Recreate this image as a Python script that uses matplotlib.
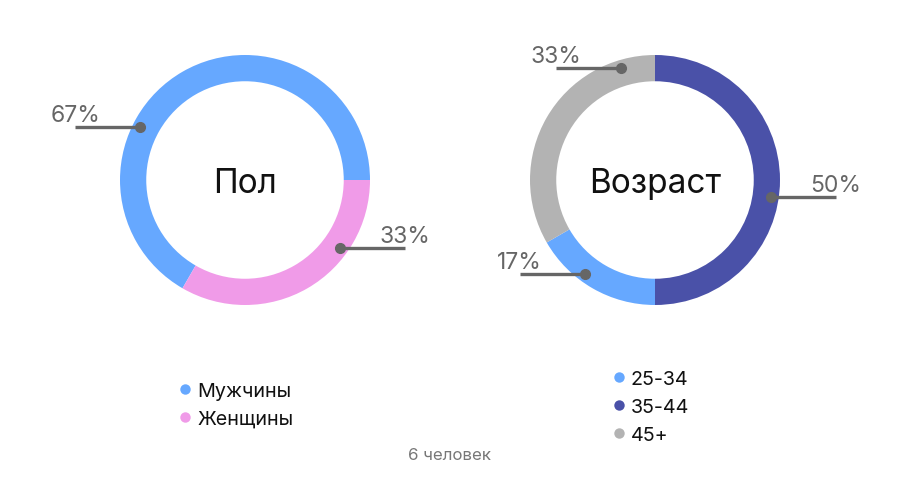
import matplotlib
matplotlib.use("Agg")
import matplotlib.pyplot as plt
import numpy as np

plt.rcParams['font.family'] = ['Inter', 'DejaVu Sans']

# ---- data ----
gender_labels = ["Мужчины", "Женщины"]
gender_counts = [4, 2]
gender_colors = ["#66a8ff", "#f09be8"]

age_labels = ["25-34", "35-44", "45+"]
age_counts = [1, 3, 2]
age_colors = ["#66a8ff", "#4a51a8", "#b3b3b3"]

total_text = "6 человек"
titles = ["Пол", "Возраст"]

# ---- layout (label anchor angles on ring, degrees) ----
gender_label_ang = [153.3, -35.7]
age_label_ang = [233.1, -8.2, 106.9]

W, H = 900, 480
fig = plt.figure(figsize=(9, 4.8), dpi=100)
R = 125.0

def make_pie(cx, cy, counts, colors, start, label_ang, title):
    ax = fig.add_axes([(cx - R) / W, (H - cy - R) / H, 2 * R / W, 2 * R / H])
    ax.pie(counts, colors=colors, startangle=start, counterclock=True,
           radius=1.0, wedgeprops=dict(width=0.21, edgecolor='none', linewidth=0))
    ax.set_xlim(-1, 1)
    ax.set_ylim(-1, 1)
    ax.set_aspect('auto')
    ax.axis('off')
    tot = sum(counts)
    r_dot = 117.0 / R
    L = 65.0 / R
    for c, a in zip(counts, label_ang):
        pct = f"{round(100 * c / tot)}%"
        t = np.deg2rad(a)
        x0, y0 = r_dot * np.cos(t), r_dot * np.sin(t)
        d = 1 if np.cos(t) > 0 else -1
        x1 = x0 + d * L
        ax.plot([x0, x1], [y0, y0], color="#666666", lw=2.4, solid_capstyle='butt', clip_on=False, zorder=5)
        ax.plot([x0], [y0], 'o', color="#666666", ms=7, clip_on=False, zorder=6)
        ax.text(x1, y0 + 5.0 / R, pct, ha='center', va='baseline', fontsize=16.5,
                color="#666666", clip_on=False)
    ax.text(0, -13.0 / R, title, ha='center', va='baseline', fontsize=24, color="#111111")
    return ax

make_pie(245, 180, gender_counts, gender_colors, 0, gender_label_ang, titles[0])
make_pie(655, 180, age_counts, age_colors, 210, age_label_ang, titles[1])

# overlay in pixel coords for legends and footer
ov = fig.add_axes([0, 0, 1, 1])
ov.set_xlim(0, W)
ov.set_ylim(H, 0)
ov.axis('off')

def legend(x, y0, step, labels, colors):
    for i, (lab, col) in enumerate(zip(labels, colors)):
        y = y0 + i * step
        ov.plot([x], [y], 'o', color=col, ms=7.5, markeredgewidth=0)
        ov.text(x + 12, y + 8, lab, ha='left', va='baseline', fontsize=14.2, color="#111111")

legend(185, 389, 28, gender_labels, gender_colors)
legend(619, 377, 28, age_labels, age_colors)

ov.text(450, 460, total_text, ha='center', va='baseline', fontsize=12.2, color="#777777")

fig.savefig("out.png", dpi=100, facecolor='white')
